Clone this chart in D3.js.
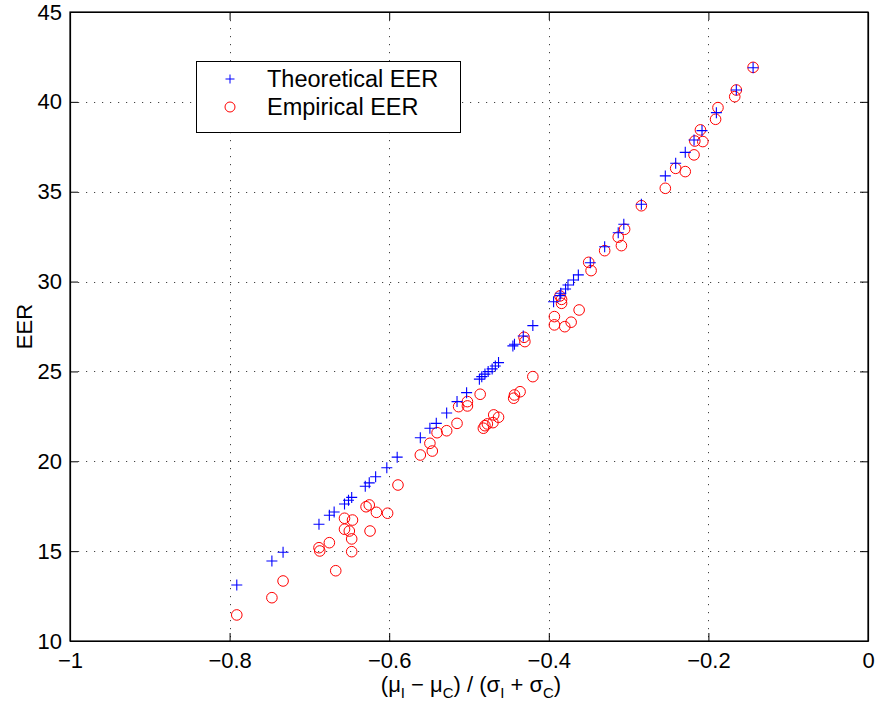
<!DOCTYPE html>
<html>
<head>
<meta charset="utf-8">
<script src="https://cdn.jsdelivr.net/npm/d3@7"></script>
<style>
  body { margin: 0; background: #fff; }
  svg { display: block; font-family: "Liberation Sans", Arial, sans-serif; }
</style>
</head>
<body>
<script>
// points: [ (muI-muC)/(sigI+sigC), EER ]
var theoretical = [
  [-0.791,13.12],[-0.747,14.45],[-0.733,14.94],[-0.688,16.50],[-0.675,17.00],[-0.669,17.18],
  [-0.656,17.62],[-0.651,17.83],[-0.647,17.99],[-0.630,18.61],[-0.625,18.80],[-0.617,19.14],
  [-0.603,19.64],[-0.590,20.23],[-0.561,21.31],[-0.549,21.84],[-0.541,22.11],[-0.528,22.69],
  [-0.515,23.32],[-0.503,23.82],[-0.487,24.57],[-0.484,24.71],[-0.480,24.85],[-0.476,24.99],
  [-0.471,25.14],[-0.467,25.30],[-0.463,25.49],[-0.445,26.42],[-0.443,26.51],[-0.432,26.97],
  [-0.420,27.55],[-0.394,28.88],[-0.386,29.22],[-0.385,29.35],[-0.379,29.59],[-0.376,29.81],
  [-0.369,30.09],[-0.363,30.37],[-0.348,31.05],[-0.330,31.94],[-0.313,32.72],[-0.306,33.19],
  [-0.284,34.30],[-0.254,35.88],[-0.241,36.58],[-0.229,37.19],[-0.218,37.88],[-0.208,38.40],
  [-0.190,39.40],[-0.165,40.66],[-0.144,41.90]
];

var empirical = [
  [-0.791,11.45],[-0.747,12.41],[-0.733,13.34],[-0.688,15.19],[-0.687,15.01],[-0.675,15.47],
  [-0.667,13.91],[-0.647,14.97],[-0.647,15.68],[-0.656,16.22],[-0.650,16.12],[-0.656,16.83],
  [-0.646,16.73],[-0.624,16.12],[-0.629,17.47],[-0.625,17.57],[-0.616,17.16],[-0.602,17.11],
  [-0.589,18.68],[-0.561,20.35],[-0.549,21.00],[-0.546,20.57],[-0.540,21.59],[-0.528,21.70],
  [-0.515,22.11],[-0.513,23.04],[-0.502,23.08],[-0.502,23.32],[-0.486,23.73],[-0.482,21.84],
  [-0.480,21.98],[-0.477,22.08],[-0.470,22.15],[-0.469,22.58],[-0.463,22.45],[-0.444,23.51],
  [-0.443,23.69],[-0.436,23.87],[-0.420,24.71],[-0.431,26.90],[-0.430,26.66],[-0.393,28.05],
  [-0.393,27.59],[-0.380,27.49],[-0.372,27.74],[-0.362,28.42],[-0.386,29.20],[-0.384,29.01],
  [-0.384,28.79],[-0.350,31.07],[-0.347,30.61],[-0.330,31.72],[-0.313,32.47],[-0.309,32.00],
  [-0.305,32.91],[-0.284,34.22],[-0.254,35.19],[-0.241,36.30],[-0.229,36.12],[-0.218,37.05],
  [-0.217,37.82],[-0.207,37.79],[-0.210,38.44],[-0.188,39.68],[-0.191,39.03],[-0.165,40.66],
  [-0.167,40.29],[-0.144,41.92]
];

var xTicks = [-1, -0.8, -0.6, -0.4, -0.2, 0];
var yTicks = [10, 15, 20, 25, 30, 35, 40, 45];
var legendLabels = ["Theoretical EER", "Empirical EER"];

var W = 875, H = 704;
var mLeft = 70, mRight = 868, mTop = 12, mBottom = 641;

var svg = d3.select("body").append("svg")
          .attr("width", W)
          .attr("height", H)

var xScale = d3.scaleLinear().domain([-1, 0]).range([mLeft, mRight]);
var yScale = d3.scaleLinear().domain([10, 45]).range([mBottom, mTop]);

var fmt = function(d) { return d == 0 ? "0" : String(d).replace("-", "\u2212"); };

// grid
svg.append("g").selectAll("line")
  .data(xTicks.slice(1, -1))
  .enter().append("line")
  .attr("x1", function(d){ return Math.round(xScale(d)) + 0.5 })
  .attr("x2", function(d){ return Math.round(xScale(d)) + 0.5 })
  .attr("y1", mTop).attr("y2", mBottom)
  .attr("stroke", "#444").attr("stroke-dasharray", "1.2,6.8")

svg.append("g").selectAll("line")
  .data(yTicks.slice(1, -1))
  .enter().append("line")
  .attr("y1", function(d){ return Math.round(yScale(d)) + 0.5 })
  .attr("y2", function(d){ return Math.round(yScale(d)) + 0.5 })
  .attr("x1", mLeft).attr("x2", mRight)
  .attr("stroke", "#444").attr("stroke-dasharray", "1.2,6.8")

// axes with inward ticks on all sides
var tick = 8;
svg.append("g").attr("transform", "translate(0," + mBottom + ")")
  .call(d3.axisBottom(xScale).tickValues(xTicks).tickSizeInner(-tick).tickSizeOuter(0).tickPadding(11).tickFormat(fmt))
svg.append("g").attr("transform", "translate(0," + mTop + ")")
  .call(d3.axisTop(xScale).tickValues(xTicks).tickSizeInner(-tick).tickSizeOuter(0).tickFormat(""))
svg.append("g").attr("transform", "translate(" + mLeft + ",0)")
  .call(d3.axisLeft(yScale).tickValues(yTicks).tickSizeInner(-tick).tickSizeOuter(0).tickPadding(8).tickFormat(fmt))
svg.append("g").attr("transform", "translate(" + mRight + ",0)")
  .call(d3.axisRight(yScale).tickValues(yTicks).tickSizeInner(-tick).tickSizeOuter(0).tickFormat(""))

svg.selectAll(".domain").attr("stroke", "#000").attr("stroke-width", 1.2)
svg.selectAll(".tick line").attr("stroke", "#000")
svg.selectAll(".tick text")
  .attr("font-family", "'Liberation Sans', Arial, sans-serif")
  .attr("font-size", 22).attr("fill", "#000")

svg.append("rect")
  .attr("x", mLeft).attr("y", mTop)
  .attr("width", mRight - mLeft).attr("height", mBottom - mTop)
  .attr("fill", "none").attr("stroke", "#000").attr("stroke-width", 1.2)

// markers
var plusPath = function(cx, cy, s) {
  return "M" + (cx - s) + "," + cy + "H" + (cx + s) + "M" + cx + "," + (cy - s) + "V" + (cy + s);
};

svg.append("g").selectAll("circle")
  .data(empirical)
  .enter().append("circle")
  .attr("cx", function(d){ return xScale(d[0]) })
  .attr("cy", function(d){ return yScale(d[1]) })
  .attr("r", 5.3)
  .attr("fill", "none").attr("stroke", "#ff0000").attr("stroke-width", 1)

svg.append("g").selectAll("path")
  .data(theoretical)
  .enter().append("path")
  .attr("d", function(d){ return plusPath(xScale(d[0]), yScale(d[1]), 5.5) })
  .attr("fill", "none").attr("stroke", "#0000ff").attr("stroke-width", 1.1)

// legend
var lg = svg.append("g")
lg.append("rect")
  .attr("x", 196.5).attr("y", 61.5).attr("width", 264).attr("height", 71)
  .attr("fill", "#fff").attr("stroke", "#000").attr("stroke-width", 1)
lg.append("path").attr("d", plusPath(230, 79, 4.5))
  .attr("stroke", "#0000ff").attr("fill", "none")
lg.append("circle").attr("cx", 230).attr("cy", 107).attr("r", 5)
  .attr("stroke", "#ff0000").attr("fill", "none")
lg.selectAll("text")
  .data(legendLabels)
  .enter().append("text")
  .attr("x", 267)
  .attr("y", function(d, i){ return 79 + i * 28 })
  .attr("dy", "0.35em")
  .attr("font-size", 23.5)
  .text(function(d){ return d })

// axis labels
svg.append("text")
  .attr("transform", "translate(32," + ((mTop + mBottom) / 2) + ") rotate(-90)")
  .attr("text-anchor", "middle")
  .attr("font-size", 22)
  .text("EER")

var xl = svg.append("text")
  .attr("x", (mLeft + mRight) / 2 + 2)
  .attr("y", 692)
  .attr("text-anchor", "middle")
  .attr("font-size", 22)
var parts = [["(\u03bc", 0], ["I", 1], [" \u2212 \u03bc", 0], ["C", 1], [") / (\u03c3", 0], ["I", 1], [" + \u03c3", 0], ["C", 1], [")", 0]];
var prevSub = 0;
parts.forEach(function(p){
  var dy = 0;
  if (p[1] && !prevSub) dy = 6;
  if (!p[1] && prevSub) dy = -6;
  xl.append("tspan")
    .attr("font-size", p[1] ? 15 : 22)
    .attr("dy", dy)
    .text(p[0])
  prevSub = p[1];
});
</script>
</body>
</html>
